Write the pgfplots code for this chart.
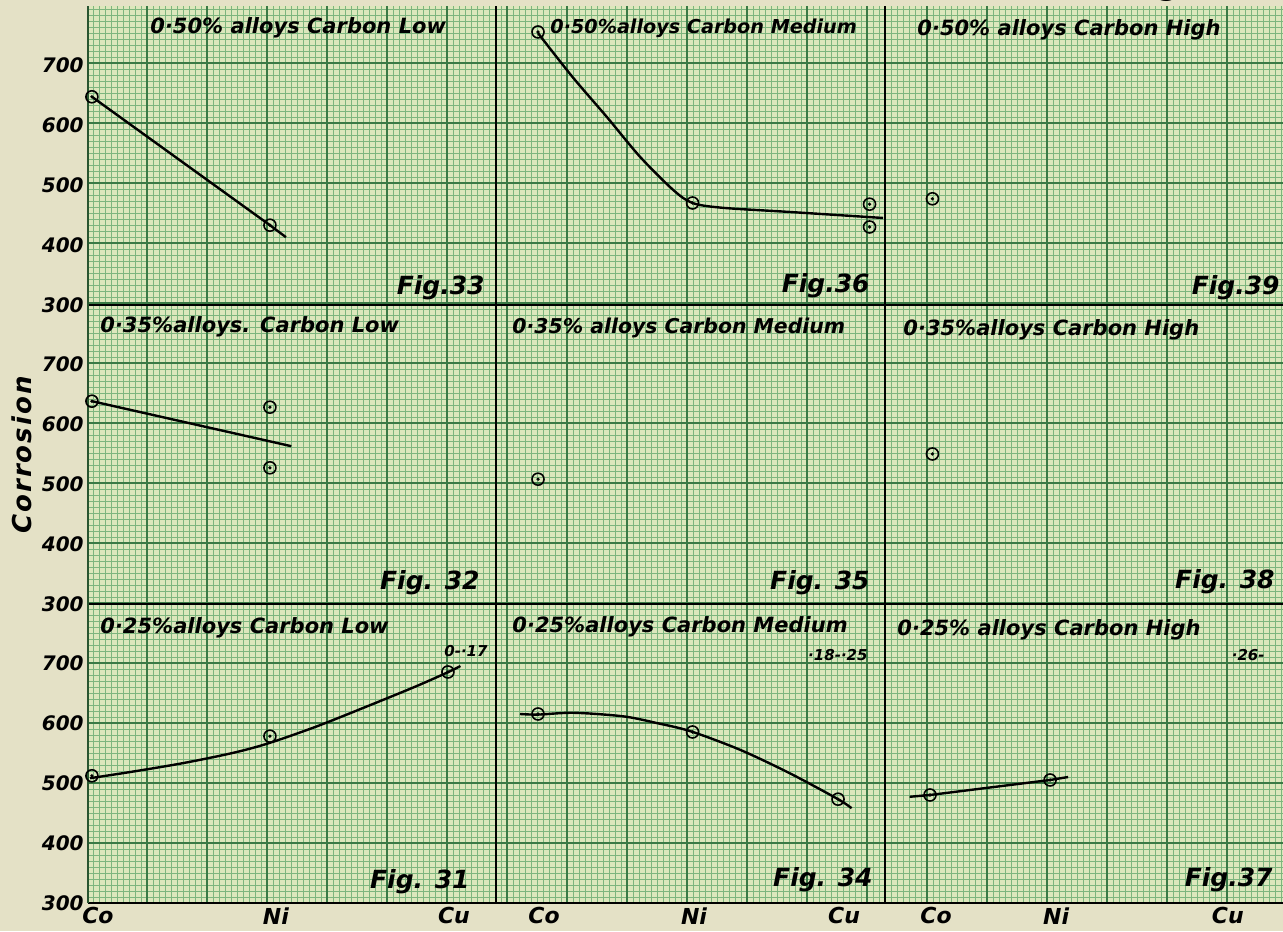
\documentclass[border=0pt]{standalone}
\usepackage{fontspec}
\setmainfont{DejaVu Sans}
\usepackage{pgfplots}
\pgfplotsset{compat=1.18}

\definecolor{paper}{HTML}{E4E1C6}
\definecolor{gridbg}{HTML}{DCE7BC}
\definecolor{minorg}{HTML}{7DB57E}
\definecolor{majorg}{HTML}{3A7A45}

\pgfdeclareplotmark{odot}{%
  \pgfpathcircle{\pgfpointorigin}{\pgfplotmarksize}\pgfusepathqstroke
  \pgfpathcircle{\pgfpointorigin}{0.3\pgfplotmarksize}\pgfusepathqfill}

\newcommand{\hand}{\bfseries\itshape}

\pgfplotsset{
  panel/.style={scale only axis, height=149.5pt, ymin=300, ymax=798.3, clip=false,
    axis x line*=bottom, axis y line*=left,
    every outer x axis line/.append style={-},
    every outer y axis line/.append style={-},
    x axis line style={line width=1.4pt, black, -},
    y axis line style={line width=1.4pt, black, -},
    major tick length=0pt, ytick={300,400,500,600,700},
    /pgf/number format/assume math mode=true,
    yticklabel style={font=\fontsize{10}{11}\selectfont\hand, inner sep=2pt},
    xticklabel style={font=\fontsize{11}{12}\selectfont\hand, inner sep=0pt, yshift=-2pt, xshift=3pt},
    xmajorticks=false},
  colL/.style={width=204pt, xmin=-0.022, xmax=2.27,
    y axis line style={line width=1pt, majorg!70!black, -}},
  colM/.style={width=194.5pt, xmin=-0.28, xmax=2.313, ymajorticks=false},
  colR/.style={width=199pt, xmin=-0.375, xmax=2.94, ymajorticks=false},
  bottomrow/.style={xmajorticks=true, xticklabels={Co,Ni,Cu}},
  mk/.style={only marks, mark=odot, mark size=3pt, black, line width=0.8pt},
  ln/.style={no marks, black, line width=1.2pt},
}

\begin{document}
\begin{tikzpicture}[x=0.5pt, y=0.5pt]
\useasboundingbox (0,0) rectangle (1283,931);
\clip (0,0) rectangle (1283,931);
% paper
\fill[paper] (0,0) rectangle (1283,931);
\fill[gridbg] (88,28) rectangle (1283,925);
\begin{scope}[shift={(27,28)}]
  \draw[minorg, line width=0.35pt, step=6] (61,0) grid (1256,897);
  \draw[majorg, line width=0.6pt, step=60] (61,0) grid (1256,897);
\end{scope}

% ---------- top row (0.50%) ----------
\begin{axis}[panel, colL, at={(44pt,313pt)}, anchor=south west]
  \addplot[ln] coordinates {(0,647) (1,433) (1.09,413)};
  \addplot[mk] coordinates {(0,647) (1,433)};
\end{axis}
\begin{axis}[panel, colM, at={(248pt,313pt)}, anchor=south west]
  \addplot[ln, smooth] coordinates {(0,753) (0.23,680) (0.46,613) (0.68,547) (0.9,492) (1.03,470) (1.23,462) (1.68,455) (2.3,445)};
  \addplot[mk] coordinates {(0,755) (1.03,470) (2.21,468) (2.21,430)};
\end{axis}
\begin{axis}[panel, colR, at={(442.5pt,313pt)}, anchor=south west, xtick={0,1,2.43}]
  \addplot[mk] coordinates {(0.02,477)};
\end{axis}

% ---------- middle row (0.35%) ----------
\begin{axis}[panel, colL, at={(44pt,163.5pt)}, anchor=south west]
  \addplot[ln] coordinates {(0,638) (1.12,563)};
  \addplot[mk] coordinates {(0,638) (1,628) (1,527)};
\end{axis}
\begin{axis}[panel, colM, at={(248pt,163.5pt)}, anchor=south west]
  \addplot[mk] coordinates {(0,508)};
\end{axis}
\begin{axis}[panel, colR, at={(442.5pt,163.5pt)}, anchor=south west, xtick={0,1,2.43}]
  \addplot[mk] coordinates {(0.02,550)};
\end{axis}

% ---------- bottom row (0.25%) ----------
\begin{axis}[panel, colL, bottomrow, at={(44pt,14pt)}, anchor=south west, xtick={0,1,2}]
  \addplot[ln, smooth] coordinates {(-0.01,508) (0.23,519) (0.51,533) (0.79,550) (0.99,566) (1.26,594) (1.54,627) (1.82,661) (2.01,686) (2.07,695)};
  \addplot[mk] coordinates {(0,512) (1,578) (2,685)};
\end{axis}
\begin{axis}[panel, colM, bottomrow, at={(248pt,14pt)}, anchor=south west, xtick={0,1,2}]
  \addplot[ln, smooth] coordinates {(-0.12,615) (0,614) (0.24,617) (0.57,611) (0.79,600) (1.02,586) (1.35,555) (1.68,516) (2.0,473) (2.09,458)};
  \addplot[mk] coordinates {(0,615) (1.03,585) (2,473)};
\end{axis}
\begin{axis}[panel, colR, bottomrow, at={(442.5pt,14pt)}, anchor=south west, xtick={0,1,2.43}]
  \addplot[ln] coordinates {(-0.17,477) (0,480) (1,505) (1.15,510)};
  \addplot[mk] coordinates {(0,480) (1,505)};
\end{axis}

% ---------- titles ----------
\begin{scope}[every node/.style={inner sep=0pt, font=\fontsize{10.5}{12}\selectfont\hand}]
  \node[anchor=west] at (150,903) {0·50\% alloys Carbon Low};
  \node[anchor=west, font=\fontsize{9.6}{12}\selectfont\hand] at (550,903) {0·50\%alloys Carbon Medium};
  \node[anchor=west] at (917,901) {0·50\% alloys Carbon High};
  \node[anchor=west] at (100,604) {0·35\%alloys. Carbon Low};
  \node[anchor=west, font=\fontsize{10.2}{12}\selectfont\hand] at (512,603) {0·35\% alloys Carbon Medium};
  \node[anchor=west] at (903,601) {0·35\%alloys Carbon High};
  \node[anchor=west] at (100,303) {0·25\%alloys Carbon Low};
  \node[anchor=west] at (512,304) {0·25\%alloys Carbon Medium};
  \node[anchor=west] at (897,301) {0·25\% alloys Carbon High};
\end{scope}
\begin{scope}[every node/.style={inner sep=0pt, anchor=east, font=\fontsize{7.5}{9}\selectfont\hand}]
  \node at (488,280) {0-·17};
  \node at (868,276) {·18-·25};
  \node at (1265,276) {·26-};
\end{scope}
\begin{scope}[every node/.style={inner sep=0pt, anchor=east, font=\fontsize{12.5}{14}\selectfont\hand}]
  \node at (485,643) {Fig.33};
  \node at (870,645) {Fig.36};
  \node at (1280,643) {Fig.39};
  \node at (480,348) {Fig. 32};
  \node at (870,348) {Fig. 35};
  \node at (1275,349) {Fig. 38};
  \node at (470,49) {Fig. 31};
  \node at (873,51) {Fig. 34};
  \node at (1273,51) {Fig.37};
\end{scope}
\node[rotate=90, inner sep=0pt, font=\fontsize{13}{15}\selectfont\hand\addfontfeature{LetterSpace=8}] at (22,476) {Corrosion};
\node[anchor=base west, inner sep=0pt, font=\fontsize{14}{16}\selectfont\hand] at (1108,935) {Diagram 4};
\end{tikzpicture}
\end{document}
